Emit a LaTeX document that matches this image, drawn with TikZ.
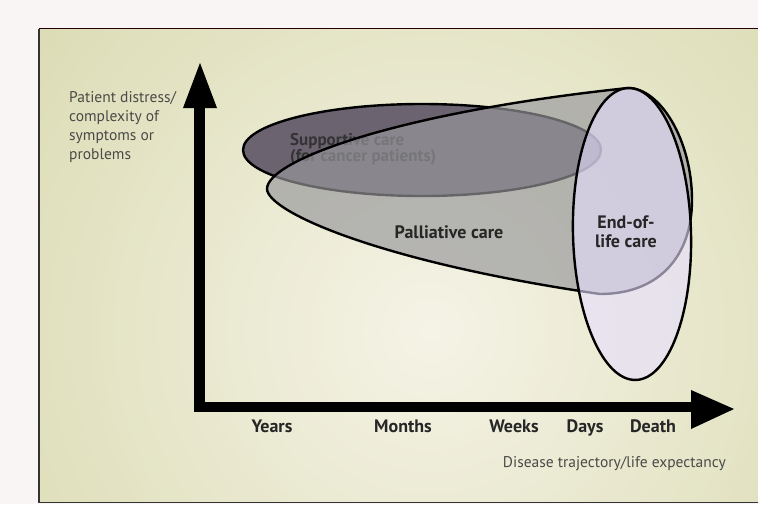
\documentclass[tikz,border=0pt]{standalone}
\usepackage{fontspec}
\setmainfont{PT Sans}
\definecolor{outerbg}{HTML}{F8F5F4}
\definecolor{panelin}{HTML}{F5F3E6}
\definecolor{panelout}{HTML}{D0D29F}
\definecolor{supcol}{HTML}{6C6370}
\definecolor{palcol}{HTML}{98989C}
\definecolor{eolcol}{HTML}{E6DEFF}
\definecolor{labcol}{HTML}{262626}
\definecolor{graytext}{HTML}{4A4A48}
\tikzset{
  boldlab/.style={font=\fontsize{18}{20}\selectfont\bfseries, text=labcol, inner sep=0pt},
  suplab/.style={font=\fontsize{17}{20}\selectfont\bfseries, text=black!80, inner sep=0pt},
  reglab/.style={font=\fontsize{15.5}{19}\selectfont, text=graytext, inner sep=0pt},
  shapeline/.style={draw=black, line width=2.4pt},
}
\begin{document}
\begin{tikzpicture}[x=1pt,y=-1pt]
\useasboundingbox (0,0) rectangle (758,504);
\fill[outerbg] (0,0) rectangle (758,504);
% panel background
\begin{scope}
  \clip (39,28.5) rectangle (758,502);
  \shade[inner color=panelin, outer color=panelout] (430,330) circle (720);
\end{scope}
\draw[line width=1.6pt, draw=black!75!red!60!black] (39,28.5) -- (758,28.5);
\draw[line width=1.6pt, draw=black!80] (39,28.5) -- (39,502.5) -- (758,502.5);
% axes
\coordinate (O) at (199.5,407);
\coordinate (ybase) at (199.5,108);
\coordinate (ytip) at (200,63);
\coordinate (xbase) at (692,407);
\coordinate (xtip) at (734,409);
\draw[line width=10.5pt, line join=miter] (ybase) -- (O) -- (xbase);
\fill (183,108) -- (ytip) -- (217,108) -- cycle;
\fill (691,390) -- (xtip) -- (691,429) -- cycle;
% supportive care
\path[shapeline, fill=supcol] (422,150) ellipse [x radius=179, y radius=46];
\node[suplab, anchor=base west] (sup1) at (290,145) {Supportive care};
\node[suplab, anchor=base west] (sup2) at (290,161) {(for cancer patients)};
% palliative care
\path[shapeline, fill=palcol, fill opacity=0.67]
  (628,88) .. controls (400,112) and (267,160) .. (267,189)
  .. controls (268,212) and (380,262) .. (600,294)
  .. controls (660,294) and (692,255) .. (692,200)
  .. controls (692,140) and (660,88) .. (628,88) -- cycle;
\node[boldlab, anchor=base] (pal) at (449,238) {Palliative care};
% end of life care
\path[shapeline, fill=eolcol, fill opacity=0.6, rotate around={1.5:(632,234)}] (632,234) ellipse [x radius=59, y radius=146];
\node[boldlab, anchor=base] (eol1) at (626,228) {End-of-};
\node[boldlab, anchor=base] (eol2) at (626,247) {life care};
% axis labels
\node[boldlab, anchor=base] (years) at (272,432) {Years};
\node[boldlab, anchor=base] (months) at (403,432) {Months};
\node[boldlab, anchor=base] (weeks) at (514,432) {Weeks};
\node[boldlab, anchor=base] (days) at (585,432) {Days};
\node[boldlab, anchor=base] (death) at (653,432) {Death};
\node[reglab, anchor=base east] (xlab) at (726,467) {Disease trajectory/life expectancy};
\node[reglab, anchor=base west] (y1) at (69,102) {Patient distress/};
\node[reglab, anchor=base west] (y2) at (69,121) {complexity of};
\node[reglab, anchor=base west] (y3) at (69,140) {symptoms or};
\node[reglab, anchor=base west] (y4) at (69,159) {problems};
\end{tikzpicture}
\end{document}
